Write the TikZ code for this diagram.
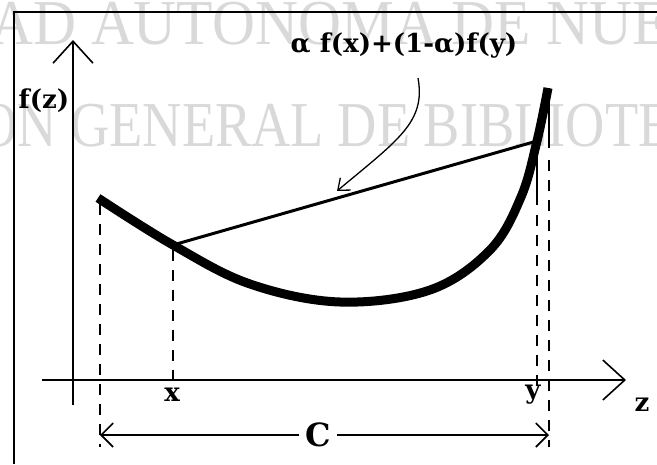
\documentclass[tikz,border=0pt]{standalone}
\usepackage{fontspec}
\setmainfont{Liberation Serif}
\newfontfamily\lblfont{DejaVu Serif}
\usetikzlibrary{arrows.meta}
\tikzset{
  frameline/.style={line width=2.4pt},
  axisline/.style={line width=1.6pt},
  axistip/.style={-{Straight Barb[length=22pt,width=40pt,line width=1.6pt]}},
  curveline/.style={line width=9pt},
  chordline/.style={line width=3pt},
  dashline/.style={line width=2.2pt,dash pattern=on 11pt off 9pt},
  guideline/.style={line width=2pt},
  lbl/.style={font=\lblfont\fontsize{26}{26}\selectfont\bfseries,inner sep=0pt},
  wmark/.style={font=\fontsize{64}{64}\selectfont,text=gray!30,inner sep=0pt,anchor=base west},
  dimtip/.style={-{Straight Barb[length=12pt,width=24pt,line width=1.6pt]}},
  pointer/.style={line width=1.3pt,-{Straight Barb[length=10pt,width=16pt,line width=1.3pt]}}
}
\begin{document}
\begin{tikzpicture}[x=1pt,y=-1pt]
\useasboundingbox (0,0) rectangle (657,464);
% watermark
\begin{scope}
\clip (0,0) rectangle (657,464);
\node[wmark,xscale=0.93] (wm1) at (-10,44) {AD AUTONOMA DE NUE};
\node[wmark,xscale=0.85] (wm2) at (-22,146) {ON GENERAL DE BIBLIOTE};
\end{scope}
% frame
\coordinate (ftl) at (14,12);
\coordinate (ftr) at (657,12);
\coordinate (fbl) at (14,464);
\draw[frameline] (ftr) -- (ftl) -- (fbl);
% axes
\coordinate (yb) at (73,405);
\coordinate (yt) at (73,40);
\coordinate (xl) at (42,380);
\coordinate (xr) at (626,380);
\draw[axisline,axistip] (yb) -- (yt);
\draw[axisline,axistip] (xl) -- (xr);
\node[lbl] (fz) at (44,101) {f(z)};
\node[lbl] (zl) at (642,405) {z};
% key points
\coordinate (cs) at (98,198);
\coordinate (px) at (173,245);
\coordinate (py) at (537,141);
\coordinate (ce) at (548,88);
% dashed guides
\draw[dashline] (100,204) -- (100,447);
\draw[dashline] (173,250) -- (173,386);
\draw[guideline] (py) -- (537,205);
\draw[dashline] (537,215) -- (537,392);
\draw[guideline] ([xshift=1pt]ce) -- (549,148);
\draw[dashline] (549,160) -- (549,447);
% curve
\draw[curveline] plot[smooth,tension=0.6] coordinates {(cs) (px) (250,284) (340,302) (430,290) (490,250) (521,197) (py) (ce)};
% chord
\draw[chordline] (px) -- (py);
% labels
\node[lbl] (lx) at (172,395) {x};
\node[lbl] (ly) at (533,395) {y};
\node[lbl,font=\lblfont\fontsize{32}{32}\selectfont\bfseries] (cl) at (318,435) {C};
\coordinate (dl) at (100,435);
\coordinate (dr) at (549,435);
\draw[axisline,dimtip] (cl.west) ++(-6,0) -- (dl);
\draw[axisline,dimtip] (cl.east) ++(6,0) -- (dr);
% combination label
\node[lbl] (comb) at (404,46) {α f(x)+(1-α)f(y)};
\coordinate (ptip) at (337,191);
\draw[pointer] (418,78) .. controls (426,122) and (398,140) .. (ptip);
\end{tikzpicture}
\end{document}
